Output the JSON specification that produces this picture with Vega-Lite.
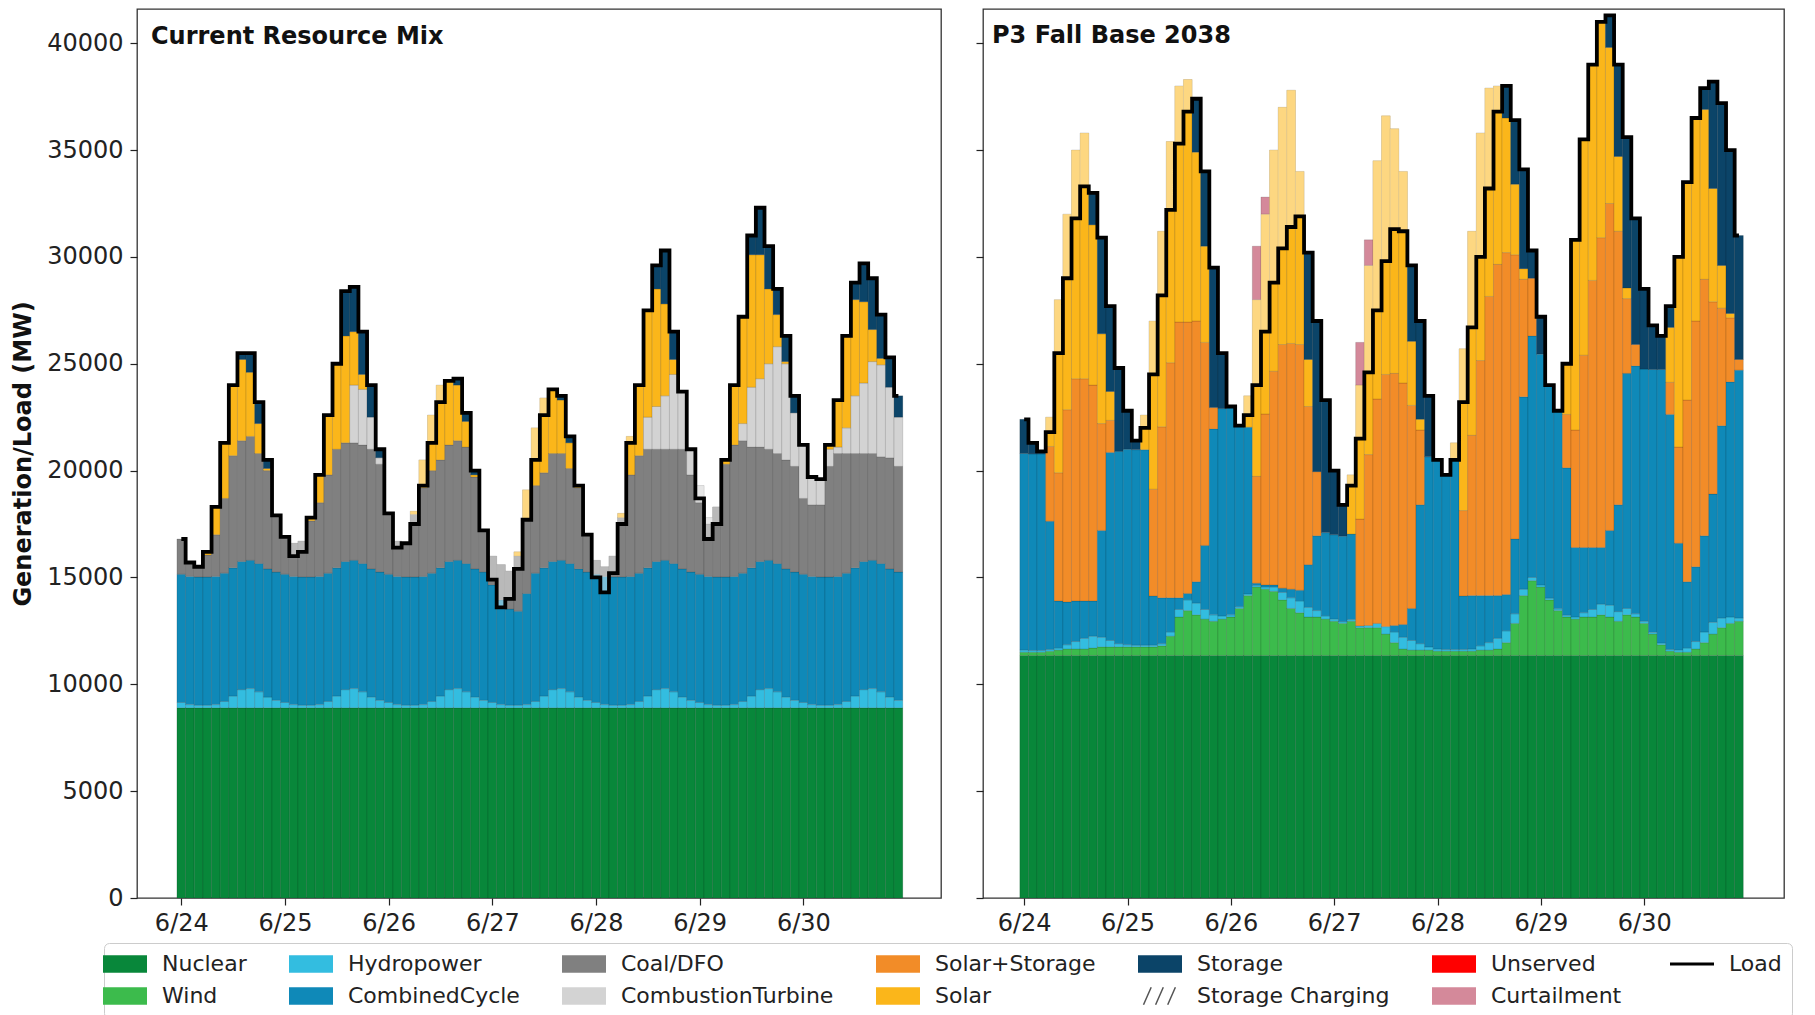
{
"$schema": "https://vega.github.io/schema/vega-lite/v6.json",
"background": "white",
"padding": {"left": 11, "top": 7, "right": 5, "bottom": 5},
"config": {
  "font": "DejaVu Sans",
  "view": {"stroke": "#333333", "strokeWidth": 1.3},
  "axis": {"grid": false, "domain": false, "tickColor": "#222222", "tickSize": 7, "tickWidth": 1.2, "labelFontSize": 24, "labelColor": "#222222", "labelFont": "DejaVu Sans", "titleFontSize": 24, "titleFontWeight": "bold", "titleColor": "#111111", "titleFont": "DejaVu Sans"},
  "legend": {"orient": "none", "legendX": -33, "legendY": 934, "direction": "horizontal", "columns": 7, "labelFontSize": 22, "labelColor": "#222222", "labelFont": "DejaVu Sans", "symbolSize": 1936, "symbolType": "square", "symbolStrokeWidth": 0, "columnPadding": 42, "rowPadding": 9, "padding": 10, "strokeColor": "#cccccc", "fillColor": "#ffffff", "cornerRadius": 5, "labelOffset": 26, "labelLimit": 400}
},
"datasets": {
  "meta": [{"k":"N","name":"Nuclear","rank":1},{"k":"W","name":"Wind","rank":2},{"k":"Hy","name":"Hydropower","rank":3},{"k":"CC","name":"CombinedCycle","rank":4},{"k":"Co","name":"Coal/DFO","rank":5},{"k":"CT","name":"CombustionTurbine","rank":6},{"k":"SS","name":"Solar+Storage","rank":7},{"k":"S","name":"Solar","rank":8},{"k":"St","name":"Storage","rank":9},{"k":"Cu","name":"Curtailment","rank":10}],
  "rows": [
{"p":"A","h":0,"L":16800,"N":8900,"Hy":250,"CC":6000,"Co":1650},
{"p":"A","h":2,"L":15700,"N":8900,"Hy":150,"CC":6000,"Co":650},
{"p":"A","h":4,"L":15500,"N":8900,"Hy":120,"CC":6000,"Co":480},
{"p":"A","h":6,"L":16200,"N":8900,"Hy":120,"CC":6000,"Co":1030,"S":150},
{"p":"A","h":8,"L":18300,"N":8900,"Hy":150,"CC":6000,"Co":1950,"S":1300},
{"p":"A","h":10,"L":21300,"N":8900,"Hy":300,"CC":6000,"Co":3500,"S":2600},
{"p":"A","h":12,"L":24000,"N":8900,"Hy":550,"CC":6000,"Co":5250,"S":3300},
{"p":"A","h":14,"L":25500,"N":8900,"Hy":850,"CC":6000,"Co":5650,"S":3800,"St":300},
{"p":"A","h":16,"L":25500,"N":8900,"Hy":900,"CC":6000,"Co":5800,"S":3000,"St":900},
{"p":"A","h":18,"L":23200,"N":8900,"Hy":750,"CC":6000,"Co":5150,"S":1400,"St":1000},
{"p":"A","h":20,"L":20500,"N":8900,"Hy":500,"CC":6000,"Co":4600,"S":100,"St":400},
{"p":"A","h":22,"L":17900,"N":8900,"Hy":350,"CC":6000,"Co":2650},
{"p":"A","h":24,"L":16900,"N":8900,"Hy":250,"CC":6000,"Co":1750},
{"p":"A","h":26,"L":16000,"N":8900,"Hy":150,"CC":6000,"Co":1550},
{"p":"A","h":28,"L":16200,"N":8900,"Hy":120,"CC":6000,"Co":1680},
{"p":"A","h":30,"L":17800,"N":8900,"Hy":120,"CC":6000,"Co":2630,"S":150},
{"p":"A","h":32,"L":19800,"N":8900,"Hy":150,"CC":6000,"Co":3450,"S":1300},
{"p":"A","h":34,"L":22600,"N":8900,"Hy":300,"CC":6000,"Co":4600,"S":2800},
{"p":"A","h":36,"L":25000,"N":8900,"Hy":550,"CC":6000,"Co":5550,"S":4000},
{"p":"A","h":38,"L":28400,"N":8900,"Hy":850,"CC":6000,"Co":5550,"S":5000,"St":2100},
{"p":"A","h":40,"L":28600,"N":8900,"Hy":900,"CC":6000,"Co":5500,"CT":2700,"S":2500,"St":2100},
{"p":"A","h":42,"L":26500,"N":8900,"Hy":750,"CC":6000,"Co":5550,"CT":2600,"S":700,"St":2000},
{"p":"A","h":44,"L":24000,"N":8900,"Hy":500,"CC":6000,"Co":5600,"CT":1500,"St":1500},
{"p":"A","h":46,"L":21000,"N":8900,"Hy":350,"CC":6000,"Co":5050,"CT":300,"St":400},
{"p":"A","h":48,"L":18000,"N":8900,"Hy":250,"CC":6000,"Co":2850},
{"p":"A","h":50,"L":16400,"N":8900,"Hy":150,"CC":6000,"Co":1650},
{"p":"A","h":52,"L":16600,"N":8900,"Hy":120,"CC":6000,"Co":1580},
{"p":"A","h":54,"L":17500,"N":8900,"Hy":120,"CC":6000,"Co":2930,"S":150},
{"p":"A","h":56,"L":19300,"N":8900,"Hy":150,"CC":6000,"Co":4150,"S":1300},
{"p":"A","h":58,"L":21300,"N":8900,"Hy":300,"CC":6000,"Co":4800,"S":2600},
{"p":"A","h":60,"L":23200,"N":8900,"Hy":550,"CC":6000,"Co":5050,"S":3500},
{"p":"A","h":62,"L":24200,"N":8900,"Hy":850,"CC":6000,"Co":5450,"S":3000},
{"p":"A","h":64,"L":24300,"N":8900,"Hy":900,"CC":6000,"Co":5600,"S":2600,"St":300},
{"p":"A","h":66,"L":22700,"N":8900,"Hy":750,"CC":6000,"Co":5450,"S":1200,"St":400},
{"p":"A","h":68,"L":20000,"N":8900,"Hy":500,"CC":6000,"Co":4300,"S":100,"St":200},
{"p":"A","h":70,"L":17200,"N":8900,"Hy":350,"CC":6000,"Co":1950},
{"p":"A","h":72,"L":14900,"N":8900,"Hy":250,"CC":5500,"Co":1350},
{"p":"A","h":74,"L":13600,"N":8900,"Hy":150,"CC":4900,"Co":1650},
{"p":"A","h":76,"L":14000,"N":8900,"Hy":120,"CC":4500,"Co":1780},
{"p":"A","h":78,"L":15400,"N":8900,"Hy":120,"CC":4400,"Co":2580,"S":200},
{"p":"A","h":80,"L":17700,"N":8900,"Hy":150,"CC":5200,"Co":3450,"S":1400},
{"p":"A","h":82,"L":20500,"N":8900,"Hy":300,"CC":6000,"Co":4100,"S":2700},
{"p":"A","h":84,"L":22600,"N":8900,"Hy":550,"CC":6000,"Co":4450,"S":3500},
{"p":"A","h":86,"L":23800,"N":8900,"Hy":850,"CC":6000,"Co":5050,"S":3000},
{"p":"A","h":88,"L":23500,"N":8900,"Hy":900,"CC":6000,"Co":5000,"S":2500,"St":200},
{"p":"A","h":90,"L":21600,"N":8900,"Hy":750,"CC":6000,"Co":4450,"S":1200,"St":300},
{"p":"A","h":92,"L":19300,"N":8900,"Hy":500,"CC":6000,"Co":3800,"S":100},
{"p":"A","h":94,"L":17000,"N":8900,"Hy":350,"CC":6000,"Co":1750},
{"p":"A","h":96,"L":15000,"N":8900,"Hy":250,"CC":6000,"Co":650},
{"p":"A","h":98,"L":14300,"N":8900,"Hy":150,"CC":6000,"Co":450},
{"p":"A","h":100,"L":15200,"N":8900,"Hy":120,"CC":6000,"Co":980},
{"p":"A","h":102,"L":17500,"N":8900,"Hy":120,"CC":6000,"Co":2780,"S":200},
{"p":"A","h":104,"L":21300,"N":8900,"Hy":150,"CC":6000,"Co":4750,"S":1800},
{"p":"A","h":106,"L":24000,"N":8900,"Hy":300,"CC":6000,"Co":5500,"S":3300},
{"p":"A","h":108,"L":27500,"N":8900,"Hy":550,"CC":6000,"Co":5550,"CT":1500,"S":5000},
{"p":"A","h":110,"L":29600,"N":8900,"Hy":850,"CC":6000,"Co":5250,"CT":2000,"S":5500,"St":1100},
{"p":"A","h":112,"L":30300,"N":8900,"Hy":900,"CC":6000,"Co":5200,"CT":2500,"S":4300,"St":2500},
{"p":"A","h":114,"L":26500,"N":8900,"Hy":750,"CC":6000,"Co":5350,"CT":3500,"S":700,"St":1300},
{"p":"A","h":116,"L":23700,"N":8900,"Hy":500,"CC":6000,"Co":5600,"CT":2700},
{"p":"A","h":118,"L":21000,"N":8900,"Hy":350,"CC":6000,"Co":4550,"CT":1200},
{"p":"A","h":120,"L":18700,"N":8900,"Hy":250,"CC":6000,"Co":3350,"CT":800},
{"p":"A","h":122,"L":16800,"N":8900,"Hy":150,"CC":6000,"Co":2450,"CT":300},
{"p":"A","h":124,"L":17500,"N":8900,"Hy":120,"CC":6000,"Co":3280},
{"p":"A","h":126,"L":20500,"N":8900,"Hy":120,"CC":6000,"Co":5280,"S":200},
{"p":"A","h":128,"L":24000,"N":8900,"Hy":150,"CC":6000,"Co":6150,"S":2800},
{"p":"A","h":130,"L":27200,"N":8900,"Hy":300,"CC":6000,"Co":6200,"CT":800,"S":5000},
{"p":"A","h":132,"L":31000,"N":8900,"Hy":550,"CC":6000,"Co":5650,"CT":2800,"S":6200,"St":900},
{"p":"A","h":134,"L":32300,"N":8900,"Hy":850,"CC":6000,"Co":5350,"CT":3200,"S":5800,"St":2200},
{"p":"A","h":136,"L":30500,"N":8900,"Hy":900,"CC":6000,"Co":5200,"CT":4000,"S":3500,"St":2000},
{"p":"A","h":138,"L":28500,"N":8900,"Hy":750,"CC":6000,"Co":5150,"CT":5000,"S":1500,"St":1200},
{"p":"A","h":140,"L":26300,"N":8900,"Hy":500,"CC":6000,"Co":5100,"CT":4500,"S":100,"St":1200},
{"p":"A","h":142,"L":23500,"N":8900,"Hy":350,"CC":6000,"Co":4950,"CT":2500,"St":800},
{"p":"A","h":144,"L":21200,"N":8900,"Hy":250,"CC":6000,"Co":3550,"CT":2500},
{"p":"A","h":146,"L":19700,"N":8900,"Hy":150,"CC":6000,"Co":3350,"CT":1300},
{"p":"A","h":148,"L":19600,"N":8900,"Hy":120,"CC":6000,"Co":3380,"CT":1200},
{"p":"A","h":150,"L":21200,"N":8900,"Hy":120,"CC":6000,"Co":5180,"CT":800,"S":200},
{"p":"A","h":152,"L":23300,"N":8900,"Hy":150,"CC":6000,"Co":5750,"CT":300,"S":2200},
{"p":"A","h":154,"L":26300,"N":8900,"Hy":300,"CC":6000,"Co":5600,"CT":1200,"S":4300},
{"p":"A","h":156,"L":28800,"N":8900,"Hy":550,"CC":6000,"Co":5350,"CT":2700,"S":4500,"St":800},
{"p":"A","h":158,"L":29700,"N":8900,"Hy":850,"CC":6000,"Co":5050,"CT":3300,"S":3800,"St":1800},
{"p":"A","h":160,"L":29000,"N":8900,"Hy":900,"CC":6000,"Co":5000,"CT":4300,"S":1500,"St":2400},
{"p":"A","h":162,"L":27300,"N":8900,"Hy":750,"CC":6000,"Co":5000,"CT":4300,"S":300,"St":2050},
{"p":"A","h":164,"L":25300,"N":8900,"Hy":500,"CC":6000,"Co":5200,"CT":3300,"St":1400},
{"p":"A","h":166,"L":23500,"N":8900,"Hy":350,"CC":6000,"Co":4950,"CT":2300,"St":1000},
{"p":"B","h":0,"L":22400,"N":11350,"W":150,"Hy":100,"CC":9200,"St":1600},
{"p":"B","h":2,"L":21300,"N":11350,"W":150,"Hy":80,"CC":9200,"St":520},
{"p":"B","h":4,"L":20900,"N":11350,"W":150,"Hy":80,"CC":9200,"St":120},
{"p":"B","h":6,"L":21800,"N":11350,"W":200,"Hy":80,"CC":6000,"SS":3500,"S":1370},
{"p":"B","h":8,"L":25500,"N":11350,"W":250,"Hy":100,"CC":2200,"SS":6000,"S":8100},
{"p":"B","h":10,"L":29000,"N":11350,"W":300,"Hy":200,"CC":2000,"SS":9000,"S":9150},
{"p":"B","h":12,"L":31800,"N":11350,"W":300,"Hy":350,"CC":1900,"SS":10400,"S":10700},
{"p":"B","h":14,"L":33300,"N":11350,"W":300,"Hy":500,"CC":1750,"SS":10400,"S":11500},
{"p":"B","h":16,"L":33000,"N":11350,"W":350,"Hy":550,"CC":1650,"SS":10100,"S":7500,"St":1500},
{"p":"B","h":18,"L":30900,"N":11350,"W":400,"Hy":450,"CC":5000,"SS":5000,"S":4200,"St":4500},
{"p":"B","h":20,"L":27700,"N":11350,"W":400,"Hy":300,"CC":8800,"SS":1500,"S":1350,"St":4000},
{"p":"B","h":22,"L":24800,"N":11350,"W":400,"Hy":150,"CC":9000,"St":3900},
{"p":"B","h":24,"L":22800,"N":11350,"W":400,"Hy":100,"CC":9150,"St":1800},
{"p":"B","h":26,"L":21400,"N":11350,"W":400,"Hy":80,"CC":9150,"St":420},
{"p":"B","h":28,"L":22000,"N":11350,"W":400,"Hy":80,"CC":9150,"S":1620},
{"p":"B","h":30,"L":24500,"N":11350,"W":400,"Hy":80,"CC":2300,"SS":5000,"S":7870},
{"p":"B","h":32,"L":28200,"N":11350,"W":450,"Hy":100,"CC":2150,"SS":8000,"S":9150},
{"p":"B","h":34,"L":32200,"N":11350,"W":900,"Hy":200,"CC":1600,"SS":11000,"S":10350},
{"p":"B","h":36,"L":35300,"N":11350,"W":1800,"Hy":350,"CC":550,"SS":12900,"S":11050},
{"p":"B","h":38,"L":36800,"N":11350,"W":2100,"Hy":500,"CC":300,"SS":12700,"S":11350},
{"p":"B","h":40,"L":37400,"N":11350,"W":1900,"Hy":550,"CC":1000,"SS":12200,"S":7900,"St":2500},
{"p":"B","h":42,"L":34000,"N":11350,"W":1700,"Hy":450,"CC":3000,"SS":9500,"S":4500,"St":3500},
{"p":"B","h":44,"L":29500,"N":11350,"W":1600,"Hy":300,"CC":8700,"SS":1000,"St":6550},
{"p":"B","h":46,"L":25500,"N":11350,"W":1700,"Hy":150,"CC":9700,"St":2600},
{"p":"B","h":48,"L":23000,"N":11350,"W":1800,"Hy":100,"CC":9700,"St":50},
{"p":"B","h":50,"L":22100,"N":11350,"W":2200,"Hy":80,"CC":8470},
{"p":"B","h":52,"L":22600,"N":11350,"W":2800,"Hy":80,"CC":7800,"S":1470},
{"p":"B","h":54,"L":24000,"N":11350,"W":3200,"Hy":80,"CC":100,"SS":5000,"S":8270,"Cu":2500},
{"p":"B","h":56,"L":26500,"N":11350,"W":3100,"Hy":100,"CC":100,"SS":8000,"S":9350,"Cu":800},
{"p":"B","h":58,"L":28800,"N":11350,"W":3000,"Hy":200,"CC":100,"SS":10000,"S":10350},
{"p":"B","h":60,"L":30400,"N":11350,"W":2600,"Hy":350,"CC":200,"SS":11400,"S":11100},
{"p":"B","h":62,"L":31400,"N":11350,"W":2200,"Hy":500,"CC":400,"SS":11500,"S":11850},
{"p":"B","h":64,"L":31900,"N":11350,"W":2000,"Hy":550,"CC":500,"SS":11500,"S":8100},
{"p":"B","h":66,"L":30200,"N":11350,"W":1800,"Hy":450,"CC":2000,"SS":7400,"S":2200,"St":5000},
{"p":"B","h":68,"L":27000,"N":11350,"W":1800,"Hy":300,"CC":3500,"SS":3000,"St":7050},
{"p":"B","h":70,"L":23300,"N":11350,"W":1700,"Hy":150,"CC":3900,"St":6200},
{"p":"B","h":72,"L":20000,"N":11350,"W":1600,"Hy":100,"CC":3950,"St":3000},
{"p":"B","h":74,"L":18400,"N":11350,"W":1500,"Hy":80,"CC":4000,"St":1470},
{"p":"B","h":76,"L":19300,"N":11350,"W":1600,"Hy":80,"CC":4000,"S":2770},
{"p":"B","h":78,"L":21500,"N":11350,"W":1300,"Hy":80,"SS":5000,"S":6270,"Cu":2000},
{"p":"B","h":80,"L":24600,"N":11350,"W":1300,"Hy":100,"SS":8000,"S":8850,"Cu":1200},
{"p":"B","h":82,"L":27500,"N":11350,"W":1300,"Hy":200,"SS":10500,"S":11150},
{"p":"B","h":84,"L":29800,"N":11350,"W":1000,"Hy":350,"SS":11800,"S":12100},
{"p":"B","h":86,"L":31300,"N":11350,"W":600,"Hy":500,"CC":300,"SS":11800,"S":11450},
{"p":"B","h":88,"L":31200,"N":11350,"W":300,"Hy":550,"CC":600,"SS":11300,"S":9900},
{"p":"B","h":90,"L":29600,"N":11350,"W":250,"Hy":450,"CC":1500,"SS":9500,"S":3000,"St":3550},
{"p":"B","h":92,"L":27000,"N":11350,"W":250,"Hy":300,"CC":6500,"SS":3500,"S":500,"St":4600},
{"p":"B","h":94,"L":23500,"N":11350,"W":250,"Hy":150,"CC":8900,"St":2850},
{"p":"B","h":96,"L":20500,"N":11350,"W":200,"Hy":100,"CC":8850},
{"p":"B","h":98,"L":19800,"N":11350,"W":200,"Hy":80,"CC":8170},
{"p":"B","h":100,"L":20500,"N":11350,"W":200,"Hy":80,"CC":8900,"S":770},
{"p":"B","h":102,"L":23200,"N":11350,"W":200,"Hy":80,"CC":2500,"SS":4000,"S":7570},
{"p":"B","h":104,"L":26700,"N":11350,"W":200,"Hy":100,"CC":2500,"SS":7500,"S":9550},
{"p":"B","h":106,"L":30000,"N":11350,"W":250,"Hy":200,"CC":2350,"SS":11000,"S":10650},
{"p":"B","h":108,"L":33200,"N":11350,"W":250,"Hy":350,"CC":2200,"SS":14000,"S":9750},
{"p":"B","h":110,"L":36800,"N":11350,"W":300,"Hy":500,"CC":2000,"SS":15500,"S":8350},
{"p":"B","h":112,"L":38000,"N":11350,"W":600,"Hy":550,"CC":1700,"SS":16000,"S":6300,"St":1500},
{"p":"B","h":114,"L":36400,"N":11350,"W":1500,"Hy":450,"CC":3500,"SS":13300,"S":3300,"St":3000},
{"p":"B","h":116,"L":34100,"N":11350,"W":2800,"Hy":300,"CC":9000,"SS":5500,"S":500,"St":4650},
{"p":"B","h":118,"L":30300,"N":11350,"W":3500,"Hy":150,"CC":11300,"SS":2700,"St":1300},
{"p":"B","h":120,"L":27200,"N":11350,"W":3200,"Hy":100,"CC":10800,"St":1750},
{"p":"B","h":122,"L":24000,"N":11350,"W":2600,"Hy":80,"CC":9970},
{"p":"B","h":124,"L":22800,"N":11350,"W":2100,"Hy":80,"CC":9270},
{"p":"B","h":126,"L":25000,"N":11350,"W":1800,"Hy":80,"CC":6900,"SS":2500,"S":2370},
{"p":"B","h":128,"L":30800,"N":11350,"W":1700,"Hy":100,"CC":3250,"SS":5500,"S":8900},
{"p":"B","h":130,"L":35500,"N":11350,"W":1800,"Hy":200,"CC":3050,"SS":9000,"S":10100},
{"p":"B","h":132,"L":39000,"N":11350,"W":1800,"Hy":350,"CC":2900,"SS":12500,"S":10100},
{"p":"B","h":134,"L":41000,"N":11350,"W":1900,"Hy":500,"CC":2650,"SS":14500,"S":10100},
{"p":"B","h":136,"L":41300,"N":11350,"W":1800,"Hy":550,"CC":3500,"SS":15300,"S":7300,"St":1500},
{"p":"B","h":138,"L":39000,"N":11350,"W":1600,"Hy":450,"CC":5000,"SS":12800,"S":3500,"St":4300},
{"p":"B","h":140,"L":35600,"N":11350,"W":1900,"Hy":300,"CC":11000,"SS":3500,"S":500,"St":7050},
{"p":"B","h":142,"L":31800,"N":11350,"W":1800,"Hy":150,"CC":11600,"SS":1000,"St":5900},
{"p":"B","h":144,"L":28500,"N":11350,"W":1500,"Hy":100,"CC":11800,"St":3750},
{"p":"B","h":146,"L":26800,"N":11350,"W":1000,"Hy":80,"CC":12300,"St":2070},
{"p":"B","h":148,"L":26300,"N":11350,"W":500,"Hy":80,"CC":12800,"St":1570},
{"p":"B","h":150,"L":27700,"N":11350,"W":200,"Hy":80,"CC":11000,"SS":1500,"S":2570,"St":1000},
{"p":"B","h":152,"L":30000,"N":11350,"W":150,"Hy":100,"CC":5000,"SS":4500,"S":8900},
{"p":"B","h":154,"L":33500,"N":11350,"W":150,"Hy":200,"CC":3100,"SS":8500,"S":10200},
{"p":"B","h":156,"L":36500,"N":11350,"W":300,"Hy":350,"CC":3500,"SS":11500,"S":9500},
{"p":"B","h":158,"L":37900,"N":11350,"W":600,"Hy":500,"CC":4500,"SS":12000,"S":7950,"St":1000},
{"p":"B","h":160,"L":38200,"N":11350,"W":1000,"Hy":550,"CC":6000,"SS":9000,"S":5300,"St":5000},
{"p":"B","h":162,"L":37200,"N":11350,"W":1300,"Hy":450,"CC":9000,"SS":5500,"S":2000,"St":7600},
{"p":"B","h":164,"L":35000,"N":11350,"W":1500,"Hy":300,"CC":11000,"SS":3000,"S":200,"St":7650},
{"p":"B","h":166,"L":31000,"N":11350,"W":1600,"Hy":150,"CC":11600,"SS":500,"St":5800}
  ]
},
"spacing": 32,
"resolve": {"scale": {"color": "shared"}},
"hconcat": [
  {
    "width": 804, "height": 889,
    "title": {"text": "Current Resource Mix", "anchor": "start", "frame": "group", "offset": -40, "dx": 14, "fontSize": 24, "fontWeight": "bold", "color": "#111111", "font": "DejaVu Sans"},
    "data": {"name": "rows"},
    "transform": [{"filter": "datum.p === 'A'"}],
    "layer": [
      {
        "transform": [
          {"fold": ["N","W","Hy","CC","Co","CT","SS","S","St","Cu"], "as": ["k","v"]},
          {"filter": "isValid(datum.v) && datum.v > 0"},
          {"lookup": "k", "from": {"data": {"name": "meta"}, "key": "k", "fields": ["name","rank"]}}
        ],
        "mark": {"type": "bar", "width": 8.75, "stroke": "#111111", "strokeWidth": 0.4, "strokeOpacity": 0.35},
        "encoding": {
          "x": {"field": "h", "type": "quantitative", "scale": {"domain": [-9.1, 174.7], "nice": false, "zero": false}, "axis": {"values": [0,24,48,72,96,120,144], "labelExpr": "'6/' + (24 + datum.value / 24)", "title": null, "labelPadding": 6}},
          "y": {"field": "v", "type": "quantitative", "stack": "zero", "scale": {"domain": [0, 41600], "nice": false}, "axis": {"values": [0,5000,10000,15000,20000,25000,30000,35000,40000], "format": "d", "title": "Generation/Load (MW)", "titlePadding": 11, "labelPadding": 7}},
          "color": {"field": "name", "type": "nominal",
            "scale": {"domain": ["Nuclear","Hydropower","Coal/DFO","Solar+Storage","Storage","Unserved","Load","Wind","CombinedCycle","CombustionTurbine","Solar","Storage Charging","Curtailment"], "range": ["#08873a","#33bde0","#808080","#f28c28","#0b4468","#ff0000","#000000","#3cbb4c","#0f89b8","#d3d3d3","#fbb61a","#555555","#d4899a"]},
            "legend": {"title": null,
              "encode": {"symbols": {"update": {
                "shape": {"signal": "datum.value === 'Load' ? 'stroke' : (datum.value === 'Storage Charging' ? 'M-0.75,0.4L-0.4,-0.4M-0.2,0.4L0.15,-0.4M0.35,0.4L0.7,-0.4' : 'M-1,-0.4H1V0.4H-1Z')"},
                "fillOpacity": {"signal": "datum.value === 'Load' || datum.value === 'Storage Charging' ? 0 : 1"},
                "stroke": {"signal": "datum.value === 'Load' ? '#000000' : (datum.value === 'Storage Charging' ? '#555555' : 'transparent')"},
                "strokeWidth": {"signal": "datum.value === 'Load' ? 3 : (datum.value === 'Storage Charging' ? 1.5 : 0)"},
                "strokeOpacity": {"value": 1}
              }}}
            }},
          "order": {"field": "rank", "type": "quantitative"}
        }
      },
      {
        "transform": [
          {"fold": ["N","W","Hy","CC","Co","CT","SS","S","St"], "as": ["k","v"]},
          {"filter": "isValid(datum.v)"},
          {"joinaggregate": [{"op": "sum", "field": "v", "as": "T"}], "groupby": ["h"]},
          {"filter": "datum.k === 'N' && datum.T > datum.L + 10"}
        ],
        "mark": {"type": "bar", "width": 8.75, "fill": "#ffffff", "fillOpacity": 0.45},
        "encoding": {
          "x": {"field": "h", "type": "quantitative"},
          "y": {"field": "L", "type": "quantitative"},
          "y2": {"field": "T"}
        }
      },
      {
        "mark": {"type": "line", "interpolate": "step", "strokeWidth": 3.8},
        "encoding": {
          "x": {"field": "h", "type": "quantitative"},
          "y": {"field": "L", "type": "quantitative"},
          "color": {"datum": "Load", "type": "nominal",
            "legend": {"title": null,
              "encode": {"symbols": {"update": {
                "shape": {"signal": "datum.value === 'Load' ? 'stroke' : (datum.value === 'Storage Charging' ? 'M-0.75,0.4L-0.4,-0.4M-0.2,0.4L0.15,-0.4M0.35,0.4L0.7,-0.4' : 'M-1,-0.4H1V0.4H-1Z')"},
                "fillOpacity": {"signal": "datum.value === 'Load' || datum.value === 'Storage Charging' ? 0 : 1"},
                "stroke": {"signal": "datum.value === 'Load' ? '#000000' : (datum.value === 'Storage Charging' ? '#555555' : 'transparent')"},
                "strokeWidth": {"signal": "datum.value === 'Load' ? 3 : (datum.value === 'Storage Charging' ? 1.5 : 0)"},
                "strokeOpacity": {"value": 1}
              }}}
            }}
        }
      }
    ]
  },
  {
    "width": 801, "height": 889,
    "title": {"text": "P3 Fall Base 2038", "anchor": "start", "frame": "group", "offset": -40, "dx": 9, "fontSize": 24, "fontWeight": "bold", "color": "#111111", "font": "DejaVu Sans"},
    "data": {"name": "rows"},
    "transform": [{"filter": "datum.p === 'B'"}],
    "layer": [
      {
        "transform": [
          {"fold": ["N","W","Hy","CC","Co","CT","SS","S","St","Cu"], "as": ["k","v"]},
          {"filter": "isValid(datum.v) && datum.v > 0"},
          {"lookup": "k", "from": {"data": {"name": "meta"}, "key": "k", "fields": ["name","rank"]}}
        ],
        "mark": {"type": "bar", "width": 8.72, "stroke": "#111111", "strokeWidth": 0.4, "strokeOpacity": 0.35},
        "encoding": {
          "x": {"field": "h", "type": "quantitative", "scale": {"domain": [-8.4, 175.3], "nice": false, "zero": false}, "axis": {"values": [0,24,48,72,96,120,144], "labelExpr": "'6/' + (24 + datum.value / 24)", "title": null, "labelPadding": 6}},
          "y": {"field": "v", "type": "quantitative", "stack": "zero", "scale": {"domain": [0, 41600], "nice": false}, "axis": {"values": [0,5000,10000,15000,20000,25000,30000,35000,40000], "labels": false, "title": null}},
          "color": {"field": "name", "type": "nominal",
            "legend": {"title": null,
              "encode": {"symbols": {"update": {
                "shape": {"signal": "datum.value === 'Load' ? 'stroke' : (datum.value === 'Storage Charging' ? 'M-0.75,0.4L-0.4,-0.4M-0.2,0.4L0.15,-0.4M0.35,0.4L0.7,-0.4' : 'M-1,-0.4H1V0.4H-1Z')"},
                "fillOpacity": {"signal": "datum.value === 'Load' || datum.value === 'Storage Charging' ? 0 : 1"},
                "stroke": {"signal": "datum.value === 'Load' ? '#000000' : (datum.value === 'Storage Charging' ? '#555555' : 'transparent')"},
                "strokeWidth": {"signal": "datum.value === 'Load' ? 3 : (datum.value === 'Storage Charging' ? 1.5 : 0)"},
                "strokeOpacity": {"value": 1}
              }}}
            }},
          "order": {"field": "rank", "type": "quantitative"}
        }
      },
      {
        "transform": [
          {"fold": ["N","W","Hy","CC","Co","CT","SS","S","St"], "as": ["k","v"]},
          {"filter": "isValid(datum.v)"},
          {"joinaggregate": [{"op": "sum", "field": "v", "as": "T"}], "groupby": ["h"]},
          {"filter": "datum.k === 'N' && datum.T > datum.L + 10"}
        ],
        "mark": {"type": "bar", "width": 8.72, "fill": "#ffffff", "fillOpacity": 0.45},
        "encoding": {
          "x": {"field": "h", "type": "quantitative"},
          "y": {"field": "L", "type": "quantitative"},
          "y2": {"field": "T"}
        }
      },
      {
        "mark": {"type": "line", "interpolate": "step", "strokeWidth": 3.8},
        "encoding": {
          "x": {"field": "h", "type": "quantitative"},
          "y": {"field": "L", "type": "quantitative"},
          "color": {"datum": "Load", "type": "nominal",
            "legend": {"title": null,
              "encode": {"symbols": {"update": {
                "shape": {"signal": "datum.value === 'Load' ? 'stroke' : (datum.value === 'Storage Charging' ? 'M-0.75,0.4L-0.4,-0.4M-0.2,0.4L0.15,-0.4M0.35,0.4L0.7,-0.4' : 'M-1,-0.4H1V0.4H-1Z')"},
                "fillOpacity": {"signal": "datum.value === 'Load' || datum.value === 'Storage Charging' ? 0 : 1"},
                "stroke": {"signal": "datum.value === 'Load' ? '#000000' : (datum.value === 'Storage Charging' ? '#555555' : 'transparent')"},
                "strokeWidth": {"signal": "datum.value === 'Load' ? 3 : (datum.value === 'Storage Charging' ? 1.5 : 0)"},
                "strokeOpacity": {"value": 1}
              }}}
            }}
        }
      }
    ]
  }
]
}
